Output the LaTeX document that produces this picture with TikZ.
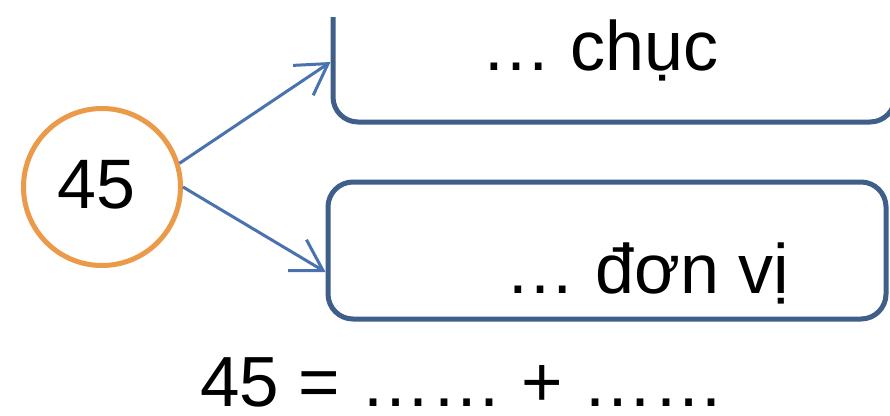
\documentclass[tikz,border=0pt]{standalone}
\usepackage{fontspec}
\setmainfont{Liberation Sans}
\usetikzlibrary{arrows.meta,calc}
\definecolor{ringorange}{HTML}{EA9A48}
\definecolor{boxblue}{HTML}{3F5F8A}
\definecolor{arrowblue}{HTML}{4A72AE}
\begin{document}
\begin{tikzpicture}[x=1pt,y=-1pt,
  ring/.style={circle,draw=ringorange,line width=5pt,minimum size=157pt,inner sep=0pt},
  answerbox/.style={rectangle,draw=boxblue,line width=5pt,rounded corners=25pt,inner sep=0pt},
  txt/.style={inner sep=0pt,anchor=base,font=\fontsize{70}{84}\selectfont},
  conn/.style={draw=arrowblue,line width=3pt,-{Straight Barb[length=30pt,width=36pt,line width=3pt]}}]
\clip (0,0) rectangle (890,415);
\fill[white] (0,0) rectangle (890,415);
\node[ring] (c) at (102,187) {};
\node[answerbox,minimum width=562pt,minimum height=182pt] (tb) at (614,31) {};
\fill[white] (0,0) rectangle (890,17);
\node[answerbox,minimum width=558pt,minimum height=137pt] (bb) at (607,250.5) {};
\node[txt] (n45) at (96.5,208) {45};
\node[txt] (tens) at (600,70) {… chục};
\node[txt] (units) at (647.5,293) {… đơn vị};
\node[txt,anchor=base west,font=\fontsize{71}{85}\selectfont] (eq) at (200,406) {45 = …… + ……};
\draw[conn] (c.17) -- ([yshift=-31pt]tb.west);
\draw[conn] (c.0) -- ([yshift=-21.5pt]bb.west);
\end{tikzpicture}
\end{document}
